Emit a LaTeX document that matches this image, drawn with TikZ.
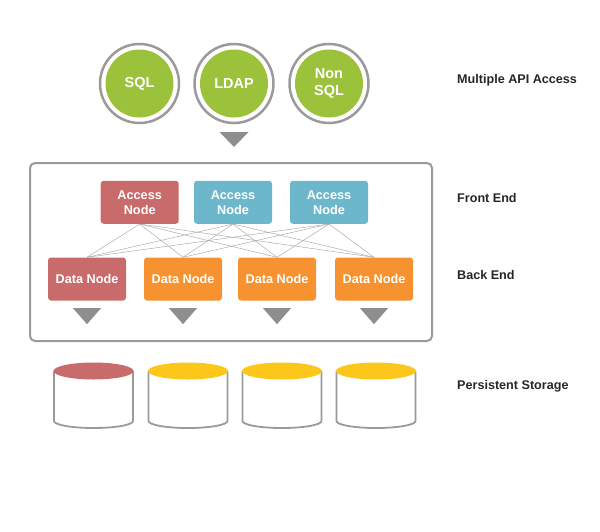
\documentclass[tikz,border=0pt]{standalone}
\usepackage{fontspec}
\setmainfont{Liberation Sans}
\usetikzlibrary{calc}
\definecolor{cgreen}{HTML}{9CC23C}
\definecolor{cred}{HTML}{C96B6B}
\definecolor{cblue}{HTML}{6CB7CB}
\definecolor{corange}{HTML}{F6922F}
\definecolor{cyellow}{HTML}{FDC61A}
\definecolor{cring}{HTML}{9A9A9A}
\definecolor{ctri}{HTML}{8E8E8E}
\definecolor{cline}{HTML}{ADADAD}
\tikzset{
  apicircle/.style={circle, fill=cgreen, minimum size=68pt, inner sep=0pt, text=white,
    font=\fontsize{14.5}{17}\selectfont\bfseries, align=center},
  ring/.style={draw=cring, line width=2.5pt},
  nodebox/.style={rounded corners=3pt, minimum width=78pt, minimum height=43pt, inner sep=0pt,
    text=white, font=\fontsize{12.7}{15}\selectfont\bfseries, align=center},
  accred/.style={nodebox, fill=cred},
  accblue/.style={nodebox, fill=cblue},
  datared/.style={nodebox, fill=cred},
  dataorange/.style={nodebox, fill=corange},
  tri/.style={fill=ctri},
  mesh/.style={draw=cline, line width=0.5pt},
  frame/.style={draw=cring, line width=2pt, rounded corners=5pt},
  cylside/.style={draw=cring, line width=1.8pt},
  label/.style={anchor=west, inner sep=0pt, font=\fontsize{12.6}{15}\selectfont\bfseries, text=black!85}
}
\begin{document}
\begin{tikzpicture}[x=1pt, y=-1pt]
\useasboundingbox (0,0) rectangle (600,531);
% API circles
\foreach \cx/\nm/\txt in {139.5/sql/SQL, 234/ldap/LDAP, 329/nosql/{Non\\SQL}} {
  \draw[ring] (\cx,83.5) circle (39.5pt);
  \node[apicircle] (\nm) at (\cx,83.5) {\txt};
}
\coordinate (t0) at (234,132);
\fill[tri] ($(t0)+(-14.5,0)$) -- ($(t0)+(14.5,0)$) -- ($(t0)+(0,15)$) -- cycle;
% frame
\draw[frame] (30,163) rectangle (432,341);
% access nodes
\node[accred]  (a1) at (139.7,202.3) {Access\\Node};
\node[accblue] (a2) at (233,202.3) {Access\\Node};
\node[accblue] (a3) at (329,202.3) {Access\\Node};
% data nodes
\node[datared]    (d1) at (87,279) {Data Node};
\node[dataorange] (d2) at (183,279) {Data Node};
\node[dataorange] (d3) at (277,279) {Data Node};
\node[dataorange] (d4) at (374,279) {Data Node};
% mesh
\foreach \a in {a1,a2,a3} {
  \foreach \d in {d1,d2,d3,d4} {
    \draw[mesh] (\a.south) -- (\d.north);
  }
}
% small triangles
\foreach \d in {d1,d2,d3,d4} {
  \fill[tri] ($(\d.south)+(-14,7.5)$) -- ($(\d.south)+(14,7.5)$) -- ($(\d.south)+(0,23.5)$) -- cycle;
}
% cylinders
\foreach \cx/\col in {93.5/cred, 188/cyellow, 282/cyellow, 376/cyellow} {
  \draw[cylside] (\cx-39.5,371) -- (\cx-39.5,421) arc[start angle=180, end angle=360, x radius=39.5pt, y radius=7pt] -- (\cx+39.5,371);
  \fill[\col] (\cx,371) ellipse[x radius=40pt, y radius=8.5pt];
}
% labels
\node[label] (l1) at (457,80) {Multiple API Access};
\node[label] (l2) at (457,198) {Front End};
\node[label] (l3) at (457,275) {Back End};
\node[label] (l4) at (457,386) {Persistent Storage};
\end{tikzpicture}
\end{document}
